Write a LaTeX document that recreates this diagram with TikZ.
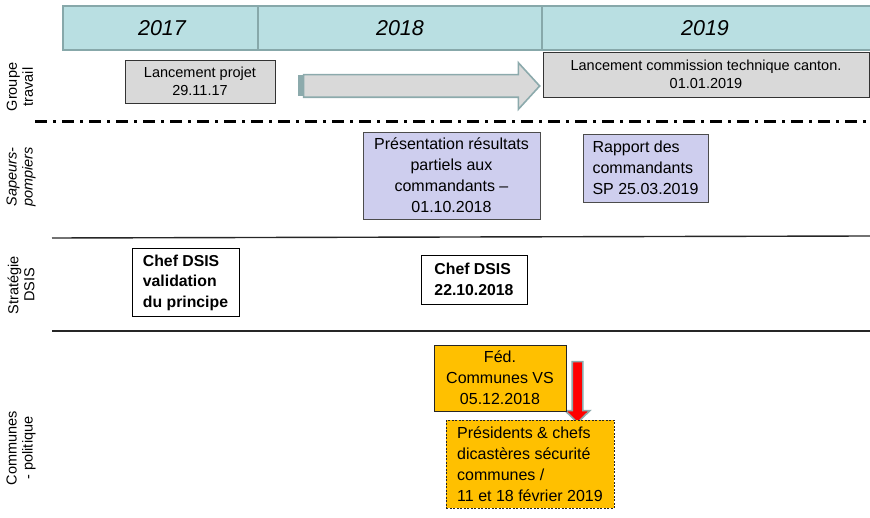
\documentclass[tikz,border=0pt]{standalone}
\usepackage{fontspec}
\setmainfont{Liberation Sans}
\usetikzlibrary{shapes.arrows}
\definecolor{hdrfill}{RGB}{185,223,226}
\definecolor{hdrline}{RGB}{135,168,170}
\definecolor{grayfill}{RGB}{217,217,217}
\definecolor{lavfill}{RGB}{206,206,238}
\definecolor{orgfill}{RGB}{255,192,0}
\definecolor{arrline}{RGB}{140,170,172}
\tikzset{
  yearcell/.style={draw=hdrline, line width=1.6pt, fill=hdrfill, inner sep=0pt},
  yeartext/.style={font=\fontsize{21.5}{24}\selectfont\itshape},
  graybox/.style={draw=black!80, line width=0.8pt, fill=grayfill, align=center, inner sep=0pt, font=\fontsize{14.5}{18}\selectfont},
  lavbox/.style={draw=black!70, line width=0.8pt, fill=lavfill, inner sep=0pt, font=\fontsize{16}{21}\selectfont},
  whitebox/.style={draw=black, line width=0.8pt, fill=white, inner sep=0pt, align=left, font=\fontsize{15.8}{20.5}\selectfont\bfseries},
  orgbox/.style={draw=black!85, line width=0.8pt, fill=orgfill, inner sep=0pt, font=\fontsize{16}{21}\selectfont},
  rowlabel/.style={rotate=90, align=center, font=\fontsize{14.5}{16}\selectfont},
  rowline/.style={line width=1.4pt, black!85},
}
\begin{document}
\begin{tikzpicture}[x=1pt,y=-1pt]
\useasboundingbox (0,0) rectangle (870,518);
% header
\node[yearcell, minimum width=195pt, minimum height=44pt] (y17) at (160.5,28) {};
\node[yearcell, minimum width=284pt, minimum height=44pt] (y18) at (400,28) {};
\node[yearcell, minimum width=330pt, minimum height=44pt] (y19) at (707,28) {};
\node[yeartext] at (162,28) {2017};
\node[yeartext] at (400,28) {2018};
\node[yeartext] at (705,28) {2019};
% row labels
\node[rowlabel] (l1) at (20,87) {Groupe\\travail};
\node[rowlabel, font=\fontsize{14.5}{16}\selectfont\itshape] (l2) at (21,177) {Sapeurs-\\pompiers};
\node[rowlabel] (l3) at (21,285) {Stratégie\\DSIS};
\node[rowlabel] (l4) at (21,448) {Communes\\- politique};
% separators
\coordinate (s1a) at (35,122); \coordinate (s1b) at (870,122);
\draw[line width=3pt, dash pattern=on 12pt off 6pt on 3pt off 6pt] (s1a) -- (s1b);
\coordinate (s2a) at (52,238); \coordinate (s2b) at (870,236);
\draw[rowline] (s2a) -- (s2b);
\coordinate (s3a) at (52,331); \coordinate (s3b) at (870,331);
\draw[rowline] (s3a) -- (s3b);
% groupe travail
\node[graybox, minimum width=150pt, minimum height=43pt] (lp) at (200,81.5) {Lancement projet\\29.11.17};
\node[graybox, minimum width=326pt, minimum height=45pt] (lc) at (706,74.5) {Lancement commission technique canton.\\01.01.2019};
\node[single arrow, draw=arrline, line width=1.6pt, fill=grayfill, minimum height=236pt, inner ysep=10.5pt, inner xsep=0pt, single arrow head extend=12pt, single arrow tip angle=95] (bigarr) at (416.5,86) {};
\fill[arrline] (297.5,75.5) rectangle (303,96.5);
% sapeurs-pompiers
\node[lavbox, minimum width=177pt, minimum height=87pt, align=center] (pr) at (451.5,175.5) {Présentation résultats\\partiels aux\\commandants –\\01.10.2018};
\node[lavbox, minimum width=125pt, minimum height=68pt, align=left] (rp) at (645.5,168) {Rapport des\\commandants\\SP 25.03.2019};
% stratégie
\node[whitebox, minimum width=107pt, minimum height=68pt] (cd1) at (185.5,282.5) {Chef DSIS\\validation\\du principe};
\node[whitebox, minimum width=106pt, minimum height=49pt] (cd2) at (474,279.5) {Chef DSIS\\22.10.2018};
% communes
\node[single arrow, draw=arrline, line width=1.6pt, fill=red, rotate=-90, minimum height=61pt, inner ysep=4.5pt, inner xsep=0pt, single arrow head extend=7pt, single arrow tip angle=92] (redarr) at (577.5,389.5) {};
\node[orgbox, minimum width=132pt, minimum height=66pt, align=center] (fed) at (500,378) {Féd.\\Communes VS\\05.12.2018};
\node[orgbox, dashed, dash pattern=on 2pt off 1.5pt, minimum width=168pt, minimum height=88pt, align=left] (pres) at (530,464) {Présidents \& chefs\\dicastères sécurité\\communes /\\11 et 18 février 2019};
\end{tikzpicture}
\end{document}
